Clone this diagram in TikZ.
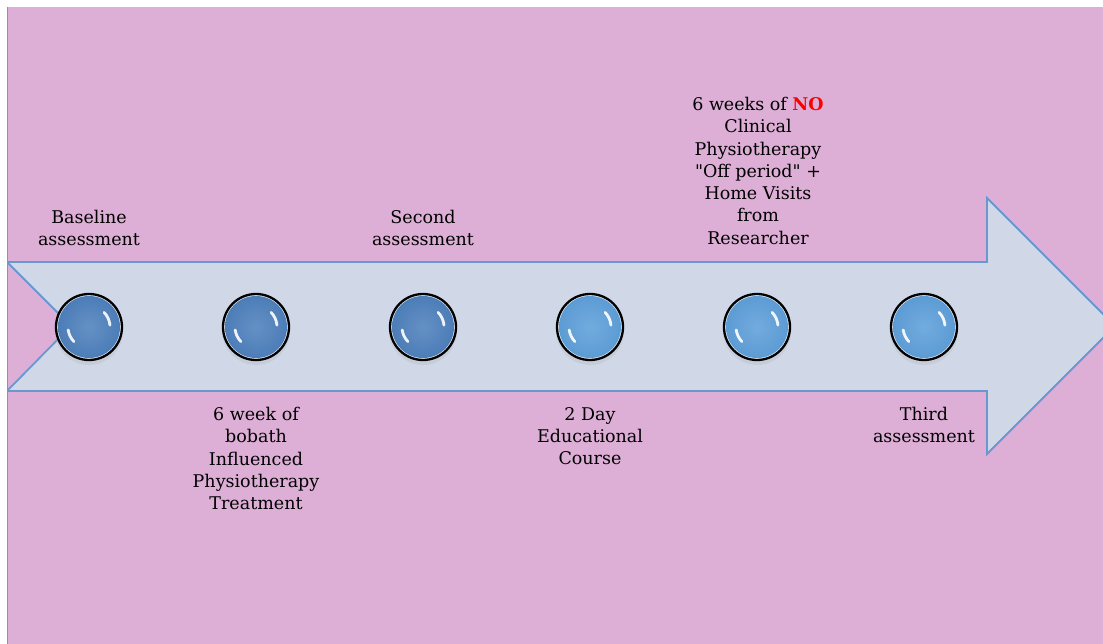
\documentclass[tikz,border=0pt]{standalone}
\usepackage{fontspec}
\setmainfont{DejaVu Serif}[Ligatures=TeXOff]
\usetikzlibrary{calc}
\definecolor{bgpink}{HTML}{DDAED6}
\definecolor{arrowfill}{HTML}{D0D8E8}
\definecolor{arrowline}{HTML}{6A97CF}
\definecolor{edgered}{HTML}{C47C86}
\definecolor{balldark}{HTML}{4F81BD}
\definecolor{balllight}{HTML}{5FA0DA}
\definecolor{noRed}{HTML}{FF0000}
\tikzset{
  lbl/.style={align=center, inner sep=0pt, text=black, font=\fontsize{17.5}{22.3}\selectfont},
  ballnode/.style={circle, minimum size=68pt, inner sep=0pt},
  shine/.style={white, opacity=0.9, line width=2.8pt, line cap=round},
}
\newcommand{\myball}[3]{% name, x, color
  \node[ballnode] (#1) at (#2,327) {};
  \fill[black!35, opacity=0.22] (#2,331) circle (34);
  \fill[white!80!#3] (#1.center) circle (33);
  \shade[inner color=#3!88!white, outer color=#3!97!black] (#1.center) circle (31);
  \draw[black, line width=2.3pt] (#1.center) circle (33);
  \draw[shine] ($(#1.center)+(136:21)$) arc (136:172:21);
  \draw[shine] ($(#1.center)+(-5:21)$) arc (-5:-44:21);
}
\begin{document}
\begin{tikzpicture}[x=1pt,y=-1pt]
\useasboundingbox (0,0) rectangle (1103,644);
\fill[white] (0,0) rectangle (1103,644);
\fill[bgpink] (8,7) rectangle (1103,644);
\draw[edgered, line width=1.5pt] (7.5,7) -- (7.5,644);
\begin{scope}
\clip (8,7) rectangle (1103,644);
\draw[arrowline, line width=1.8pt, fill=arrowfill, line join=miter]
  (7,262) -- (987,262) -- (987,198) -- (1115,326) -- (987,454) -- (987,391) -- (7,391) -- (71,326) -- cycle;
\end{scope}
\myball{b1}{89}{balldark}
\myball{b2}{256}{balldark}
\myball{b3}{423}{balldark}
\myball{b4}{590}{balllight}
\myball{b5}{757}{balllight}
\myball{b6}{924}{balllight}
\node[lbl, anchor=north] (t1) at (89,210) {Baseline\\assessment};
\node[lbl, anchor=north] (t3) at (423,210) {Second\\assessment};
\node[lbl, anchor=north] (t5) at (758,97) {6 weeks of {\bfseries\color{noRed}NO}\\Clinical\\Physiotherapy\\"Off period" +\\Home Visits\\from\\Researcher};
\node[lbl, anchor=north] (t2) at (256,407) {6 week of\\bobath\\Influenced\\Physiotherapy\\Treatment};
\node[lbl, anchor=north] (t4) at (590,407) {2 Day\\Educational\\Course};
\node[lbl, anchor=north] (t6) at (924,407) {Third\\assessment};
\end{tikzpicture}
\end{document}
